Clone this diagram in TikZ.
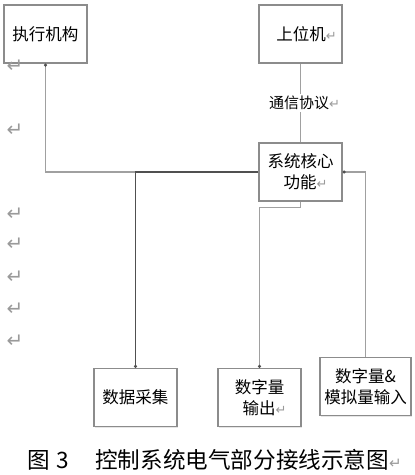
\documentclass[tikz,border=0pt]{standalone}
\usepackage{fontspec}
\newfontfamily\cjk{Noto Sans CJK SC}
\newfontfamily\markfont{DejaVu Sans}
\usetikzlibrary{arrows.meta,shadows}
\definecolor{boxline}{HTML}{8C8C8C}
\definecolor{wireline}{HTML}{A0A0A0}
\definecolor{darkwire}{HTML}{505050}
\definecolor{markgray}{HTML}{9A9A9A}
\newcommand{\ret}{{\markfont\color{markgray}\fontsize{13}{13}\selectfont ↵}}
\newcommand{\bigret}{{\markfont\color{markgray}\fontsize{20}{20}\selectfont ↵}}
\tikzset{
  box/.style={draw=boxline, line width=1.2pt, fill=white, minimum width=83pt,
    minimum height=58pt, align=center, inner sep=2pt,
    font=\cjk\fontsize{16.5}{21}\selectfont,
    drop shadow={opacity=0.2, shadow xshift=1pt, shadow yshift=-1pt}},
  wire/.style={draw=wireline, line width=1.1pt},
  dot/.style={{Circle[length=3pt,color=darkwire]}-}
}
\begin{document}
\begin{tikzpicture}[x=1pt,y=-1pt]
        \useasboundingbox (0,0) rectangle (415,475);
        % Draw the boxes
        \node[box] (act) at (45.5,34) {执行机构};
        \node[box] (host) at (300.5,34) {\hspace*{12pt}上位机\ret};
        \node[box] (core) at (300.5,172) {系统核心\\\hspace*{10pt}功能\ret};
        \node[box] (daq) at (135.5,397.5) {数据采集};
        \node[box] (dout) at (259.5,397.5) {数字量\\\hspace*{10pt}输出\ret};
        \node[box, minimum width=91pt] (ain) at (365.5,386.5) {数字量\&\\模拟量输入};
        % Connect them
        \draw[wire, dot] (act.south) |- (core.west);
        \draw[draw=darkwire, line width=1.1pt, -{Circle[length=3pt]}] (core.west) -| (daq.north);
        \draw[wire] (host.south) -- (core.north)
          node[midway, fill=white, inner sep=2pt, font=\cjk\fontsize{15}{18}\selectfont] (proto) {\hspace*{8pt}通信协议\ret};
        \draw[wire, -{Circle[length=3pt,color=darkwire]}] (core.south) -- ++(0,6) -| (dout.north);
        \draw[wire, dot] (core.east) -| (ain.north);
        % Paragraph marks on the left
        \foreach \y [count=\i] in {66,130,214,244,277,309,341}
          \node[inner sep=0pt] (mk\i) at (15,\y) {\bigret};
        % Caption
        \node[inner sep=0pt, anchor=west, font=\cjk\fontsize{22.6}{26}\selectfont] (cap) at (27,460)
          {图\hspace{7pt}3\hspace{26pt}控制系统电气部分接线示意图{\markfont\color{markgray}\fontsize{15}{15}\selectfont ↵}};
\end{tikzpicture}
\end{document}
